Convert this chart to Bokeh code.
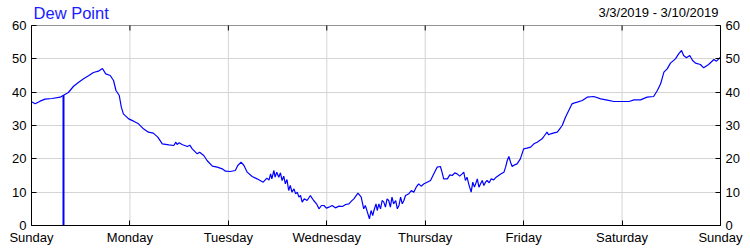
from bokeh.plotting import figure
from bokeh.models import LinearAxis, FixedTicker, Label, Range1d, BoxAnnotation
from bokeh.embed import file_html
from bokeh.resources import INLINE

TITLE = "Dew Point"
DATE_RANGE = "3/3/2019 - 3/10/2019"
DAY_LABELS = ["Sunday", "Monday", "Tuesday", "Wednesday", "Thursday", "Friday", "Saturday", "Sunday"]
Y_TICKS = [0, 10, 20, 30, 40, 50, 60]
MARKER_HOUR = 7.8
MARKER_VALUE = 39.1

hours = [0.0, 0.9, 2.1, 3.3, 5.0, 7.0, 7.8, 9.0, 10.2, 11.5, 12.7, 13.9, 15.1, 16.3, 17.3, 18.1, 19.2, 20.0,
         20.6, 21.4, 21.9, 22.4, 23.7, 24.9, 26.1, 27.3, 28.5, 29.7, 30.8, 31.9, 33.5, 34.7, 35.2, 35.5, 36.0,
         36.7, 38.0, 38.6, 39.2, 40.4, 41.0, 42.0, 42.8, 44.1, 45.3, 46.5, 47.3, 48.5, 49.7, 50.3, 51.1, 51.8,
         52.6, 53.8, 55.0, 56.5, 57.4, 57.9, 58.3, 58.6, 59.1, 59.4, 59.8, 60.3, 60.7, 61.1, 61.5, 61.9, 62.3,
         62.7, 63.1, 63.5, 64.0, 64.4, 64.8, 65.2, 65.6, 66.0, 66.5, 67.2, 68.0, 68.4, 68.8, 69.5, 70.1, 70.7,
         71.3, 71.9, 72.5, 73.3, 74.1, 75.0, 75.8, 76.6, 77.4, 78.0, 78.6, 79.6, 80.4, 81.0, 81.4, 81.9, 82.4,
         82.8, 83.2, 83.5, 84.0, 84.3, 84.7, 85.1, 85.5, 85.9, 86.3, 86.7, 87.1, 87.5, 87.9, 88.3, 88.8, 89.2,
         89.6, 90.0, 90.4, 90.8, 91.2, 92.0, 92.6, 93.2, 93.8, 94.4, 95.0, 95.7, 96.5, 97.3, 98.1, 98.9, 99.7,
         100.1, 100.5, 101.4, 102.0, 102.6, 103.2, 103.8, 104.4, 105.0, 105.4, 105.8, 106.2, 106.6, 107.2,
         107.6, 108.0, 108.3, 108.7, 109.1, 109.5, 109.9, 110.3, 110.7, 111.1, 111.6, 112.1, 112.7, 113.3,
         113.9, 114.5, 115.2, 115.6, 116.0, 116.4, 116.8, 117.2, 117.8, 118.4, 119.2, 120.0, 120.8, 121.7,
         122.5, 123.3, 124.5, 125.1, 125.7, 126.1, 126.6, 127.4, 128.2, 128.8, 129.4, 130.2, 131.0, 131.8,
         132.4, 133.1, 134.3, 135.5, 137.1, 138.8, 140.4, 142.0, 145.7, 146.9, 148.5, 150.1, 151.7, 152.6,
         153.4, 154.2, 155.0, 155.8, 157.0, 157.8, 158.5, 159.0, 159.7, 160.5, 161.2, 161.9, 163.1, 163.9,
         165.1, 166.4, 167.0, 167.6, 168.0]

dew = [37.1, 36.5, 37.3, 37.9, 38.1, 38.5, 39.1, 39.9, 41.7, 43.0, 44.0, 44.9, 45.9, 46.3, 47.1, 45.5, 45.0, 43.5,
       40.5, 39.0, 35.5, 33.5, 32.0, 31.3, 30.5, 29.0, 28.0, 27.7, 26.5, 24.5, 24.2, 24.0, 25.0, 24.3, 24.8,
       24.3, 23.7, 24.1, 23.0, 21.5, 22.0, 21.0, 19.5, 17.8, 17.5, 17.0, 16.3, 16.2, 16.5, 18.0, 19.0, 18.0,
       16.0, 14.7, 14.0, 13.0, 14.2, 13.6, 15.5, 14.0, 16.5, 14.5, 16.0, 14.5, 15.8, 13.5, 14.8, 12.5, 13.8,
       10.5, 12.0, 10.0, 11.0, 9.5, 10.0, 8.5, 9.0, 7.0, 8.0, 7.5, 9.0, 8.2, 7.5, 6.5, 5.0, 6.0,
       6.0, 5.2, 5.5, 6.0, 5.3, 5.8, 5.7, 6.3, 6.5, 7.3, 8.0, 9.7, 8.5, 5.0, 6.0, 4.0, 2.0,
       4.5, 3.0, 4.5, 6.5, 4.5, 6.5, 5.0, 7.5, 7.0, 5.5, 8.0, 7.5, 5.5, 8.5, 6.5, 7.5, 5.0,
       6.0, 8.5, 6.5, 7.5, 9.0, 9.5, 10.5, 10.0, 11.5, 12.5, 11.8, 12.5, 13.0, 13.5, 15.5, 17.5, 17.7,
       16.0, 14.0, 14.0, 15.2, 15.0, 15.8, 15.5, 14.8, 15.5, 16.0, 13.5, 14.5, 12.5, 10.0,
       13.0, 11.5, 12.5, 14.0, 11.5, 12.5, 13.5, 12.0, 13.0, 13.5, 12.8, 14.0, 13.7, 14.5,
       15.0, 15.5, 16.0, 17.5, 19.5, 20.7, 19.0, 17.7, 18.2, 18.5, 20.0, 23.0, 23.2, 23.5,
       24.5, 25.0, 26.0, 27.0, 28.0, 27.2, 27.5, 27.8, 28.0, 29.0, 30.0, 32.5, 34.5, 36.5,
       36.8, 37.0, 37.5, 38.5, 38.7, 38.0, 37.6, 37.2, 37.2, 37.7, 37.7, 38.5, 38.7, 40.5,
       42.5, 46.0, 47.0, 48.7, 50.0, 51.5, 52.5, 51.0, 50.3, 51.0, 49.5, 48.7, 48.3, 47.3,
       48.3, 49.8, 49.3, 50.0, 50.5]

day_ticks = [24 * i for i in range(len(DAY_LABELS))]
overrides = {t: lab for t, lab in zip(day_ticks, DAY_LABELS)}
y_min, y_max = Y_TICKS[0], Y_TICKS[-1]
x_min, x_max = day_ticks[0], day_ticks[-1]

FONT = "Liberation Sans"
TXT = "#000000"
GRID = "#d4d4d4"

# frame reaches the top of the canvas so that the header texts (drawn in data space above 60) are not clipped
HEADER = y_max * 225 / 200
p = figure(width=750, height=250, output_backend="svg", toolbar_location=None,
           x_range=Range1d(x_min, x_max), y_range=Range1d(y_min, HEADER),
           min_border_left=31, min_border_right=30, min_border_top=0, min_border_bottom=25,
           background_fill_color="white", border_fill_color="white")
p.outline_line_color = None

bottom = p.below[0]
left = p.left[0]
bottom.ticker = FixedTicker(ticks=day_ticks)
bottom.major_label_overrides = overrides
left.ticker = FixedTicker(ticks=Y_TICKS)
left.bounds = (y_min, y_max)

right = LinearAxis(ticker=FixedTicker(ticks=Y_TICKS), bounds=(y_min, y_max))
p.add_layout(right, "right")

for ax in [bottom, left, right]:
    ax.major_tick_in = 5
    ax.major_tick_out = 0
    ax.minor_tick_line_color = None
    ax.axis_line_color = "black"
    ax.major_tick_line_color = "black"
    ax.major_label_text_font = FONT
    ax.major_label_text_font_size = "13px"
    ax.major_label_text_color = TXT
    ax.major_label_standoff = 5
bottom.major_label_standoff = 4

p.xgrid.visible = False
p.ygrid.ticker = FixedTicker(ticks=Y_TICKS)
p.ygrid.grid_line_color = GRID
p.ygrid.grid_line_width = 1

# vertical day grid lines and top-edge inward ticks
p.segment(x0=day_ticks, y0=[y_min] * len(day_ticks), x1=day_ticks, y1=[y_max] * len(day_ticks),
          line_color=GRID, line_width=1)
p.segment(x0=day_ticks, y0=[y_max] * len(day_ticks), x1=day_ticks, y1=[y_max - 1.5] * len(day_ticks),
          line_color="black", line_width=1)

p.add_layout(BoxAnnotation(left=x_min, right=x_max, bottom=y_min, top=y_max,
                           fill_alpha=0, line_color="black", line_width=1, level="overlay"))

p.line(hours, dew, line_color="#0000ff", line_width=1.2)
p.segment(x0=[MARKER_HOUR], y0=[0], x1=[MARKER_HOUR], y1=[MARKER_VALUE], line_color="#0000ff", line_width=2)

p.add_layout(Label(x=0.5, y=63.9, text=TITLE,
                   text_font=FONT, text_font_size="16.5px", text_color="#1a1aff",
                   text_baseline="middle", text_align="left"))
p.add_layout(Label(x=167.5, y=63.9, text=DATE_RANGE,
                   text_font=FONT, text_font_size="13px", text_color=TXT,
                   text_baseline="middle", text_align="right"))

open("out.html", "w").write(file_html(p, INLINE))
